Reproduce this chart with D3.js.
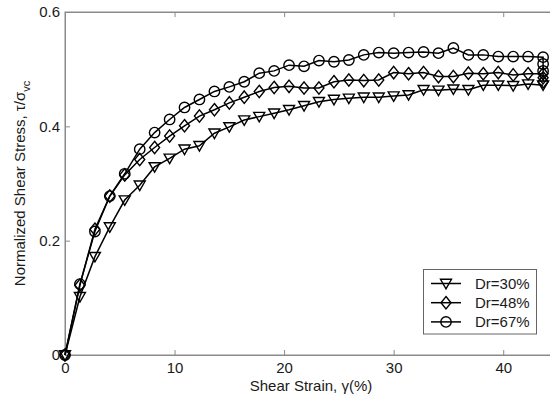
<!DOCTYPE html>
<html>
<head>
<meta charset="utf-8">
<script src="https://cdn.jsdelivr.net/npm/d3@7"></script>
<style>
  html, body { margin: 0; padding: 0; background: #fff; }
  svg { display: block; }
  text { font-family: "Liberation Sans", Arial, sans-serif; }
</style>
</head>
<body>
<svg id="chart" width="550" height="401"></svg>
<script>
// ---- data ----
const strain = [0, 1.36, 2.73, 4.09, 5.45, 6.82, 8.18, 9.55, 10.91, 12.27, 13.64, 15.0, 16.36, 17.73,
  19.09, 20.45, 21.82, 23.18, 24.55, 25.91, 27.27, 28.64, 30.0, 31.36, 32.73, 34.09, 35.45, 36.82,
  38.18, 39.55, 40.91, 42.27, 43.64];
const dr30 = [0, 0.102, 0.172, 0.224, 0.271, 0.297, 0.329, 0.344, 0.360, 0.366, 0.388, 0.399, 0.411,
  0.417, 0.423, 0.429, 0.436, 0.443, 0.447, 0.449, 0.451, 0.451, 0.453, 0.455, 0.464, 0.463, 0.465,
  0.464, 0.472, 0.472, 0.471, 0.474, 0.472];
const dr48 = [0, 0.122, 0.220, 0.278, 0.315, 0.342, 0.363, 0.383, 0.401, 0.418, 0.429, 0.441, 0.451,
  0.461, 0.468, 0.470, 0.467, 0.467, 0.478, 0.481, 0.480, 0.481, 0.494, 0.492, 0.494, 0.487, 0.487,
  0.493, 0.492, 0.494, 0.490, 0.492, 0.492, 0.485, 0.478];
const dr67 = [0, 0.124, 0.216, 0.278, 0.317, 0.360, 0.389, 0.412, 0.433, 0.447, 0.461, 0.469, 0.478,
  0.493, 0.497, 0.507, 0.505, 0.515, 0.513, 0.516, 0.525, 0.529, 0.528, 0.529, 0.530, 0.528, 0.537,
  0.525, 0.525, 0.522, 0.522, 0.522, 0.521, 0.509, 0.497];
const seriesNames = ["Dr=30%", "Dr=48%", "Dr=67%"];
const xTicks = [0, 10, 20, 30, 40];
const yTicks = [0, 0.2, 0.4, 0.6];
const yTickLabels = ["0", "0.2", "0.4", "0.6"];

// ---- layout ----
const svg = d3.select("#chart");
const mLeft = 65, mTop = 12, mRight = 558, mBottom = 355;
const x = d3.scaleLinear().domain([0, 45]).range([mLeft, mRight]);
const y = d3.scaleLinear().domain([0, 0.6]).range([mBottom, mTop]);
const axisColor = "#8a8a8a";
const fontSize = 15;

// frame
svg.append("rect").attr("x", mLeft).attr("y", mTop).attr("width", mRight - mLeft).attr("height", mBottom - mTop)
  .attr("fill", "none").attr("stroke", axisColor).attr("stroke-width", 1);

// axes with inward ticks
const xAxis = svg.append("g").attr("transform", `translate(0,${mBottom})`)
  .call(d3.axisBottom(x).tickValues(xTicks).tickSizeInner(-5).tickSizeOuter(0).tickPadding(7.5).tickFormat(d3.format("d")));
const xAxisTop = svg.append("g").attr("transform", `translate(0,${mTop})`)
  .call(d3.axisTop(x).tickValues(xTicks).tickSizeInner(-5).tickSizeOuter(0).tickFormat(""));
const yAxis = svg.append("g").attr("transform", `translate(${mLeft},0)`)
  .call(d3.axisLeft(y).tickValues(yTicks).tickSizeInner(-5).tickSizeOuter(0).tickPadding(5)
    .tickFormat((d, i) => yTickLabels[i]));
[xAxis, xAxisTop, yAxis].forEach(g => {
  g.select(".domain").attr("stroke", axisColor);
  g.selectAll(".tick line").attr("stroke", axisColor);
  g.selectAll(".tick text").attr("font-size", fontSize).attr("fill", "#1a1a1a")
    .attr("font-family", "Liberation Sans, Arial, sans-serif");
});

// series
const tri = d3.symbol().type({draw(ctx, size) { ctx.moveTo(-5.5, -4.2); ctx.lineTo(5.5, -4.2); ctx.lineTo(0, 5.3); ctx.closePath(); }})();
const dia = d3.symbol().type({draw(ctx, size) { ctx.moveTo(0, -6.2); ctx.lineTo(5, 0); ctx.lineTo(0, 6.2); ctx.lineTo(-5, 0); ctx.closePath(); }})();
const circ = d3.symbol().type({draw(ctx, size) { ctx.moveTo(5.2, 0); ctx.arc(0, 0, 5.2, 0, 2 * Math.PI); }})();
const markers = [tri, dia, circ];
const seriesData = [dr30, dr48, dr67];

const line = d3.line().x(d => x(d[0])).y(d => y(d[1]));

seriesData.forEach((vals, si) => {
  const pts = vals.map((v, i) => [strain[Math.min(i, strain.length - 1)], v]);
  const g = svg.append("g");
  g.append("path").datum(pts).attr("d", line).attr("fill", "none").attr("stroke", "#000").attr("stroke-width", 1.5);
  g.selectAll("path.m").data(pts).enter().append("path").attr("class", "m")
    .attr("d", markers[si]).attr("transform", d => `translate(${x(d[0])},${y(d[1])})`)
    .attr("fill", "none").attr("stroke", "#000").attr("stroke-width", 1.4);
});

// legend
const lg = svg.append("g");
lg.append("rect").attr("x", 423.5).attr("y", 269.5).attr("width", 113).attr("height", 64.5)
  .attr("fill", "#fff").attr("stroke", "#666").attr("stroke-width", 1);
seriesNames.forEach((name, i) => {
  const cy = 283.5 + i * 19.2;
  lg.append("line").attr("x1", 431).attr("x2", 461).attr("y1", cy).attr("y2", cy)
    .attr("stroke", "#000").attr("stroke-width", 1.5);
  lg.append("path").attr("d", markers[i]).attr("transform", `translate(446,${cy})`)
    .attr("fill", "none").attr("stroke", "#000").attr("stroke-width", 1.4);
  lg.append("text").attr("x", 475).attr("y", cy + 5.5).attr("font-size", fontSize).attr("fill", "#1a1a1a").text(name);
});

// axis titles
svg.append("text").attr("x", 311).attr("y", 391).attr("text-anchor", "middle")
  .attr("font-size", fontSize).attr("fill", "#1a1a1a").text("Shear Strain, γ(%)");
const yt = svg.append("text").attr("transform", `translate(24.5,${(mTop + mBottom) / 2}) rotate(-90)`)
  .attr("text-anchor", "middle").attr("font-size", fontSize).attr("fill", "#1a1a1a");
yt.append("tspan").text("Normalized Shear Stress, τ/σ");
yt.append("tspan").attr("dy", 5).attr("font-size", 11).text("vc");
</script>
</body>
</html>
